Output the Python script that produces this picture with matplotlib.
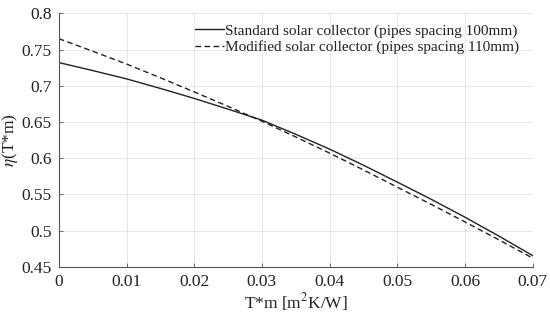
import matplotlib
matplotlib.use("Agg")
import matplotlib.pyplot as plt

x_vals = [0.0, 0.005, 0.01, 0.015, 0.02, 0.025, 0.03, 0.035, 0.04, 0.045, 0.05, 0.055, 0.06, 0.065, 0.07]
eta_standard = [0.732, 0.7210, 0.7095, 0.6963, 0.6825, 0.6677, 0.6525, 0.6330, 0.6125, 0.5903, 0.567, 0.5433, 0.5185, 0.4925, 0.4655]
eta_modified = [0.765, 0.7477, 0.730, 0.7110, 0.6915, 0.6715, 0.651, 0.6293, 0.607, 0.5838, 0.560, 0.5363, 0.512, 0.4873, 0.462]
labels = ["Standard solar collector (pipes spacing 100mm)",
          "Modified solar collector (pipes spacing 110mm)"]
xticks = [0, 0.01, 0.02, 0.03, 0.04, 0.05, 0.06, 0.07]
xticklabels = ["0", "0.01", "0.02", "0.03", "0.04", "0.05", "0.06", "0.07"]
yticks = [0.45, 0.5, 0.55, 0.6, 0.65, 0.7, 0.75, 0.8]
yticklabels = ["0.45", "0.5", "0.55", "0.6", "0.65", "0.7", "0.75", "0.8"]

plt.rcParams['font.family'] = ['Liberation Serif', 'DejaVu Serif']
plt.rcParams['mathtext.fontset'] = 'stix'

fig = plt.figure(figsize=(5.5, 3.25), dpi=100)
ax = fig.add_axes([0.107, 0.179, 0.8615, 0.780])

ax.plot(x_vals, eta_standard, color='#222222', linestyle='-', linewidth=1.0, label=labels[0])
ax.plot(x_vals, eta_modified, color='#222222', linestyle=(0, (4, 2.5)), linewidth=1.0, label=labels[1])

ax.set_xlim(0, 0.07)
ax.set_ylim(0.45, 0.8)
ax.set_xticks(xticks)
ax.set_xticklabels(xticklabels)
ax.set_yticks(yticks)
ax.set_yticklabels(yticklabels)
ax.grid(True, color='#e3e3e3', linewidth=0.6)
ax.set_axisbelow(True)
for s in ['top', 'right']:
    ax.spines[s].set_visible(False)
for s in ['left', 'bottom']:
    ax.spines[s].set_color('#555555')
    ax.spines[s].set_linewidth(0.8)
ax.tick_params(direction='in', length=3, width=0.6, color='#555555',
               labelsize=12.5, labelcolor='#222222', pad=5)

ax.set_xlabel('T*m [m$^2$K/W]', fontsize=12.5, color='#222222', labelpad=1)
ax.set_ylabel(r'$\eta$(T*m)', fontsize=12.5, color='#222222')
ax.yaxis.set_label_coords(-0.083, 0.5)

leg = ax.legend(loc='upper right', frameon=False, fontsize=11, handlelength=1.9,
                handletextpad=0.1, borderaxespad=0.3, labelspacing=0.15,
                bbox_to_anchor=(0.995, 1.0))
for t in leg.get_texts():
    t.set_color('#222222')

fig.savefig('out.png', dpi=100)
